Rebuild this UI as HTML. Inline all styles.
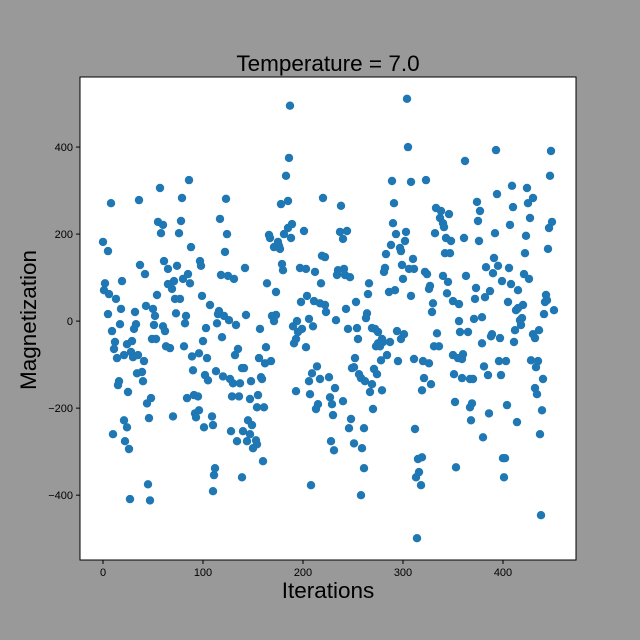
<!DOCTYPE html>
<html><head><meta charset="utf-8"><style>
html,body{margin:0;padding:0;background:#999999;}
svg{display:block;font-family:"Liberation Sans","DejaVu Sans",sans-serif;}
</style></head><body>
<svg id="chart" width="640" height="640" xmlns="http://www.w3.org/2000/svg">
<rect x="0" y="0" width="640" height="640" fill="#999999"/>
<rect x="80" y="77" width="496" height="483" fill="#ffffff" stroke="#000" stroke-width="1"/>
<g id="points"></g>
<g id="axes"></g>
<text x="328" y="71" font-size="22.5" text-anchor="middle" fill="#000">Temperature = 7.0</text>
<text x="328" y="598" font-size="22.5" text-anchor="middle" fill="#000">Iterations</text>
<text x="36" y="320" font-size="22.5" text-anchor="middle" fill="#000" transform="rotate(-90 36 320)">Magnetization</text>
</svg>
<script>
const iterations = [8,36,57,86,79,0,5,55,60,58,78,76,88,37,42,61,65,74,97,98,2,19,1,6,13,65,71,69,85,80,87,54,72,77,99,5,18,32,43,50,52,73,83,82,9,17,33,31,51,60,62,103,12,11,24,29,49,53,63,67,81,100,14,21,28,30,35,41,89,96,104,34,39,40,90,102,105,16,15,25,44,48,84,91,95,92,96,93,70,46,21,24,10,22,26,101,45,27,47,
187,186,183,123,220,178,185,117,124,122,166,167,175,176,171,177,181,185,189,188,201,219,222,179,180,142,118,125,131,197,203,212,218,164,173,204,198,211,217,222,223,107,116,115,121,126,114,133,143,169,173,171,157,190,194,206,199,195,210,193,191,203,119,163,135,132,156,162,168,139,141,113,120,127,130,137,148,158,159,214,209,217,206,193,207,129,136,147,155,154,161,215,213,109,110,145,149,128,140,147,134,144,153,154,150,160,112,111,110,139,208,
304,305,289,308,323,238,291,333,338,346,337,340,341,237,244,240,290,293,303,302,332,343,348,288,297,298,283,342,347,310,299,306,311,282,281,322,324,235,241,234,242,247,340,345,300,266,327,326,286,292,265,308,344,330,329,253,243,264,263,233,269,272,275,294,301,298,245,254,255,334,279,275,280,273,277,287,331,336,284,278,295,311,320,326,252,249,251,271,274,256,258,262,269,267,279,226,321,328,319,232,227,229,240,230,270,248,246,261,312,228,231,251,259,261,315,319,316,313,318,258,314,
393,448,362,447,409,424,394,374,430,425,377,410,375,427,449,446,407,392,361,376,423,445,422,391,383,395,390,406,421,426,363,399,408,373,387,382,372,415,443,444,442,451,405,420,415,413,350,356,441,419,417,418,379,371,356,412,436,430,432,357,365,389,388,397,411,379,350,360,355,359,396,403,428,435,433,381,385,398,351,359,367,370,440,432,434,352,369,367,404,386,439,368,414,380,437,353,400,402,401,438];
const magnetization = [271,278,306,324,283,182,161,228,221,202,230,202,170,129,108,138,120,127,138,127,87,92,71,62,51,85,92,74,108,97,87,60,51,51,58,16,28,21,35,28,12,18,12,-5,-23,-7,-7,-18,-9,-12,-23,-16,-48,-64,-53,-46,-41,-41,-58,-62,-58,-46,-85,-78,-71,-83,-78,-92,-81,-74,-85,-120,-117,-138,-113,-124,-136,-138,-147,-163,-189,-177,-177,-170,-173,-212,-205,-221,-219,-223,-228,-244,-260,-276,-294,-244,-375,-409,-412,
495,375,334,281,283,269,276,235,200,159,198,191,182,173,170,166,200,214,223,191,207,150,147,131,117,122,106,104,97,122,120,113,87,87,67,58,44,46,41,37,21,37,23,16,12,2,-5,-9,14,12,14,0,-18,-12,0,5,-18,-25,-12,-41,-51,-60,-37,-60,-64,-78,-85,-97,-92,-108,-108,-115,-127,-133,-143,-143,-138,-129,-133,-104,-120,-133,-138,-161,-168,-173,-173,-179,-170,-198,-198,-191,-202,-219,-239,-228,-239,-253,-253,-260,-276,-276,-274,-283,-292,-322,-338,-354,-391,-359,-377,
511,400,322,320,324,265,271,260,253,246,237,225,216,205,207,189,225,200,205,184,202,191,184,175,168,161,154,156,156,143,129,120,120,122,113,113,108,117,120,106,106,101,104,90,97,87,81,74,67,71,62,58,64,41,21,44,28,18,7,2,-16,-18,-25,-23,-30,-41,-18,-16,-41,-28,-41,-51,-48,-58,-58,-48,-58,-58,-78,-90,-92,-87,-92,-97,-85,-108,-106,-110,-122,-122,-131,-138,-145,-163,-159,-129,-131,-145,-159,-154,-175,-191,-184,-216,-202,-225,-246,-246,-248,-276,-297,-281,-292,-338,-317,-313,-347,-359,-377,-400,-499,
393,391,368,334,311,306,292,274,283,271,253,262,230,237,228,214,221,202,191,184,196,166,156,145,124,127,110,122,108,97,104,92,85,76,69,55,51,71,60,48,44,25,44,37,30,25,46,39,16,7,2,-9,9,5,0,-21,-21,-30,-39,-25,-25,-30,-35,-39,-48,-51,-78,-76,-85,-87,-92,-92,-90,-92,-106,-104,-124,-124,-122,-131,-133,-133,-133,-154,-168,-186,-189,-198,-193,-212,-205,-228,-232,-267,-260,-336,-315,-315,-359,-446];
const xTicks = [0,100,200,300,400];
const yTicks = [-400,-200,0,200,400];

const X0=80, X1=576, Y0=77, Y1=560;
const xMin=-23, xMax=473, yMin=-549, yMax=561;
function xs(v){return X0+(v-xMin)/(xMax-xMin)*(X1-X0);}
function ys(v){return Y1-(v-yMin)/(yMax-yMin)*(Y1-Y0);}
const NS="http://www.w3.org/2000/svg";
const pg=document.getElementById('points');
const n=Math.min(iterations.length,magnetization.length);
for(let i=0;i<n;i++){
  const c=document.createElementNS(NS,'circle');
  c.setAttribute('cx',xs(iterations[i]).toFixed(1));
  c.setAttribute('cy',ys(magnetization[i]).toFixed(1));
  c.setAttribute('r','4.2');
  c.setAttribute('fill','#1f77b4');
  
  
  pg.appendChild(c);
}
const ag=document.getElementById('axes');
xTicks.forEach(t=>{
  const x=xs(t);
  const l=document.createElementNS(NS,'line');
  l.setAttribute('x1',x);l.setAttribute('x2',x);l.setAttribute('y1',Y1);l.setAttribute('y2',Y1+4);
  l.setAttribute('stroke','#000');
  
  
  ag.appendChild(l);
  const tx=document.createElementNS(NS,'text');
  tx.setAttribute('x',x);tx.setAttribute('y',Y1+16);tx.setAttribute('font-size','11');tx.setAttribute('text-anchor','middle');
  tx.textContent=t;
  
  
  ag.appendChild(tx);
});
yTicks.forEach(t=>{
  const y=ys(t);
  const l=document.createElementNS(NS,'line');
  l.setAttribute('x1',X0-4);l.setAttribute('x2',X0);l.setAttribute('y1',y);l.setAttribute('y2',y);
  l.setAttribute('stroke','#000');
  
  
  ag.appendChild(l);
  const tx=document.createElementNS(NS,'text');
  tx.setAttribute('x',X0-7);tx.setAttribute('y',y+4);tx.setAttribute('font-size','11');tx.setAttribute('text-anchor','end');
  tx.textContent=(t<0?'\u2212'+(-t):t);
  
  
  ag.appendChild(tx);
});
</script>
</body></html>
